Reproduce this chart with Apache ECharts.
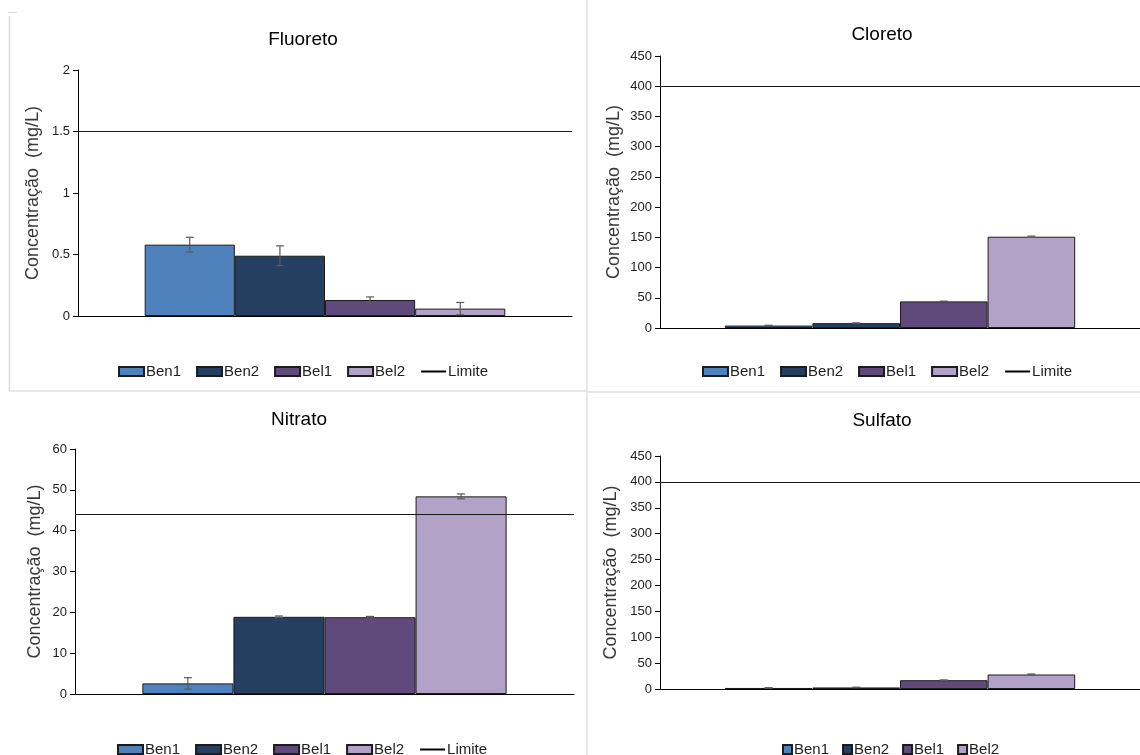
<!DOCTYPE html>
<html>
<head>
<meta charset="utf-8">
<script src="https://cdn.jsdelivr.net/npm/echarts@6/dist/echarts.min.js"></script>
<style>
  html, body { margin: 0; padding: 0; background: #fff; }
  #chart { width: 1140px; height: 755px; }
</style>
</head>
<body>
<div id="chart"></div>
<script>
// nomes das amostras e cores
var seriesNames = ['Ben1', 'Ben2', 'Bel1', 'Bel2'];
var seriesColors = ['#4f81bd', '#243f60', '#604a7b', '#b3a2c7'];

// valores (mg/L)
var fluoretoValues = [0.58, 0.49, 0.13, 0.06];
var fluoretoErrors = [0.06, 0.08, 0.025, 0.05];
var fluoretoLimit = 1.5;

var cloretoValues = [4, 8, 44, 151];
var cloretoErrors = [0.5, 0.5, 0.5, 1];
var cloretoLimit = 400;

var nitratoValues = [2.6, 18.9, 18.8, 48.4];
var nitratoErrors = [1.4, 0.2, 0.2, 0.6];
var nitratoLimit = 44;

var sulfatoValues = [2, 3, 17, 28];
var sulfatoErrors = [0.5, 0.5, 0.5, 1];
var sulfatoLimit = 400;

var GAP = 0.27;
var FONT = '"Liberation Sans", Arial, sans-serif';

var panels = [
  { title: 'Fluoreto', values: fluoretoValues, errors: fluoretoErrors, limit: fluoretoLimit,
    max: 2, interval: 0.5, grid: { left: 78, width: 494, top: 70, height: 246 },
    titlePos: { left: 298, top: 25 }, nameGap: 36,
    legend: { left: 113, top: 359 }, small: false },
  { title: 'Cloreto', values: cloretoValues, errors: cloretoErrors, limit: cloretoLimit,
    max: 450, interval: 50, grid: { left: 660, width: 480, top: 56, height: 272 },
    titlePos: { left: 877, top: 20 }, nameGap: 37,
    legend: { left: 697, top: 359 }, small: false },
  { title: 'Nitrato', values: nitratoValues, errors: nitratoErrors, limit: nitratoLimit,
    max: 60, interval: 10, grid: { left: 75, width: 499, top: 449, height: 245 },
    titlePos: { left: 294, top: 405 }, nameGap: 31,
    legend: { left: 112, top: 737 }, small: false },
  { title: 'Sulfato', values: sulfatoValues, errors: sulfatoErrors, limit: sulfatoLimit,
    max: 450, interval: 50, grid: { left: 660, width: 480, top: 456, height: 233 },
    titlePos: { left: 877, top: 406 }, nameGap: 40,
    legend: { left: 777, top: 737 }, small: true }
];

var option = {
  animation: false,
  backgroundColor: '#fff',
  textStyle: { fontFamily: FONT },
  title: [], grid: [], xAxis: [], yAxis: [], legend: [], series: [],
  graphic: [
    { type: 'line', shape: { x1: 9.5, y1: 16, x2: 9.5, y2: 391 }, style: { stroke: '#d9d9d9', lineWidth: 1.5 } },
    { type: 'line', shape: { x1: 8, y1: 12.5, x2: 17, y2: 12.5 }, style: { stroke: '#d9d9d9', lineWidth: 1 } },
    { type: 'line', shape: { x1: 9, y1: 391, x2: 587, y2: 391 }, style: { stroke: '#e0e0e0', lineWidth: 1.5 } },
    { type: 'line', shape: { x1: 587, y1: 0, x2: 587, y2: 755 }, style: { stroke: '#e0e0e0', lineWidth: 1.5 } },
    { type: 'line', shape: { x1: 587, y1: 392, x2: 1140, y2: 392 }, style: { stroke: '#e0e0e0', lineWidth: 1.5 } }
  ]
};

function errorRender(params, api) {
  var v = api.value(1), e = api.value(2), i = api.value(3);
  var band = api.size([1, 0])[0];
  var total = band * (1 - GAP);
  var bw = total / seriesNames.length;
  var c = api.coord([api.value(0), v]);
  var x = c[0] - total / 2 + bw * (i + 0.5);
  var yt = api.coord([api.value(0), v + e])[1];
  var yb = api.coord([api.value(0), Math.max(v - e, 0)])[1];
  var st = { stroke: '#5a5a5a', lineWidth: 1.2 };
  return {
    type: 'group',
    children: [
      { type: 'line', shape: { x1: x, y1: yt, x2: x, y2: yb }, style: st },
      { type: 'line', shape: { x1: x - 4, y1: yt, x2: x + 4, y2: yt }, style: st },
      { type: 'line', shape: { x1: x - 4, y1: yb, x2: x + 4, y2: yb }, style: st }
    ]
  };
}

panels.forEach(function (p, k) {
  option.title.push({
    text: p.title, left: p.titlePos.left, top: p.titlePos.top, textAlign: 'center',
    textStyle: { fontSize: 19, fontWeight: 'normal', color: '#000', fontFamily: FONT }
  });
  option.grid.push(p.grid);
  option.xAxis.push({
    type: 'category', gridIndex: k, data: [''],
    axisLine: { lineStyle: { color: '#000', width: 1 } },
    axisTick: { show: false }, axisLabel: { show: false }, splitLine: { show: false }
  });
  option.yAxis.push({
    type: 'value', gridIndex: k, min: 0, max: p.max, interval: p.interval,
    name: 'Concentração  (mg/L)', nameLocation: 'middle', nameGap: p.nameGap,
    nameTextStyle: { fontSize: 18, color: '#3a3a3a', fontFamily: FONT },
    axisLine: { show: true, lineStyle: { color: '#000', width: 1 } },
    axisTick: { show: true, length: 5, lineStyle: { color: '#000' } },
    axisLabel: { fontSize: 13, color: '#222', margin: 8, fontFamily: FONT },
    splitLine: { show: false }
  });

  seriesNames.forEach(function (name, i) {
    option.series.push({
      name: name, type: 'bar', xAxisIndex: k, yAxisIndex: k,
      data: [p.values[i]],
      barGap: 0, barCategoryGap: (GAP * 100) + '%',
      itemStyle: { color: seriesColors[i], borderColor: '#1c1c1c', borderWidth: 1 },
      z: 2
    });
  });

  option.series.push({
    type: 'custom', xAxisIndex: k, yAxisIndex: k, z: 4,
    renderItem: errorRender,
    data: p.values.map(function (v, i) { return [0, v, p.errors[i], i]; })
  });

  option.series.push({
    name: 'Limite', type: 'line', xAxisIndex: k, yAxisIndex: k,
    data: [p.limit], symbol: 'line', showSymbol: false, z: 5,
    lineStyle: { color: '#000', width: 1 },
    itemStyle: { color: '#000' },
    markLine: {
      silent: true, symbol: 'none', label: { show: false },
      lineStyle: { color: '#1a1a1a', width: 1.2, type: 'solid' },
      data: [{ yAxis: p.limit }]
    }
  });

  var legendData = seriesNames.map(function (n) { return { name: n, icon: 'rect' }; });
  if (!p.small) legendData.push({ name: 'Limite' });

  option.legend.push({
    left: p.legend.left, top: p.legend.top,
    data: legendData,
    itemWidth: p.small ? 9 : 25, itemHeight: 9, itemGap: p.small ? 13 : 15,
    textStyle: { fontSize: 15, color: '#222', fontFamily: FONT, padding: [0, 0, 0, -3] },
    selectedMode: false
  });
});

var chart = echarts.init(document.getElementById('chart'), null, { renderer: 'canvas' });
chart.setOption(option);
</script>
</body>
</html>
